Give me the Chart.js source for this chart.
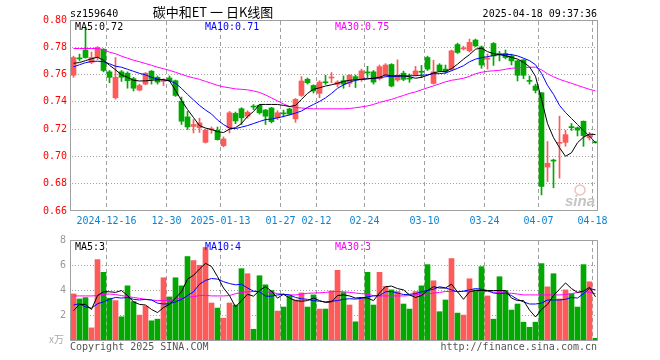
<!DOCTYPE html>
<html>
<head>
<meta charset="utf-8">
<script src="https://cdn.jsdelivr.net/npm/chart.js@4.4.1/dist/chart.umd.min.js"></script>
<style>
  html, body { margin: 0; padding: 0; background: #fff; }
  #wrap { position: relative; width: 660px; height: 360px; overflow: hidden; background: #fff; }
  canvas { position: absolute; left: 0; }
  #price { top: 0; }
  #vol { top: 230px; }
</style>
</head>
<body>
<div id="wrap">
  <canvas id="price" width="660" height="230"></canvas>
  <canvas id="vol" width="660" height="130"></canvas>
</div>
<script>
// daily candles, 2024-12-09 .. 2025-04-18 (88 sessions)
const opens = [
  0.7595, 0.772, 0.778, 0.769, 0.7725, 0.7786, 0.762, 0.743, 0.762, 0.761,
  0.757, 0.7486, 0.753, 0.7625, 0.758, 0.755, 0.7575, 0.7555, 0.7405, 0.729,
  0.722, 0.721, 0.7103, 0.7195, 0.7192, 0.7079, 0.721, 0.7315, 0.735, 0.7295,
  0.7368, 0.7375, 0.734, 0.7355, 0.7283, 0.7318, 0.7348, 0.7275, 0.7447, 0.7566,
  0.752, 0.7462, 0.7545, 0.7575, 0.7528, 0.7555, 0.7536, 0.7585, 0.7565, 0.7618,
  0.762, 0.757, 0.7595, 0.7674, 0.756, 0.761, 0.7573, 0.7595, 0.7623, 0.7725,
  0.7535, 0.767, 0.764, 0.7639, 0.782, 0.7788, 0.7774, 0.7853, 0.7803, 0.7713,
  0.7828, 0.7753, 0.7755, 0.7736, 0.770, 0.7708, 0.7556, 0.7516, 0.7467, 0.6922,
  0.6972, 0.7096, 0.7103, 0.7216, 0.721, 0.7258, 0.7136, 0.7106
];
const highs = [
  0.7735, 0.775, 0.7946, 0.7765, 0.7805, 0.779, 0.763, 0.7725, 0.763, 0.762,
  0.758, 0.753, 0.7615, 0.763, 0.759, 0.757, 0.759, 0.756, 0.7435, 0.733,
  0.727, 0.728, 0.720, 0.7216, 0.7216, 0.7143, 0.733, 0.7325, 0.7357, 0.7335,
  0.738, 0.738, 0.7345, 0.736, 0.7335, 0.734, 0.7355, 0.7425, 0.7585, 0.7575,
  0.7525, 0.7555, 0.7595, 0.7615, 0.7555, 0.759, 0.760, 0.7597, 0.764, 0.766,
  0.763, 0.767, 0.768, 0.768, 0.7708, 0.7625, 0.7605, 0.766, 0.7667, 0.7735,
  0.7705, 0.768, 0.767, 0.778, 0.783, 0.7808, 0.786, 0.786, 0.781, 0.7751,
  0.7835, 0.777, 0.778, 0.775, 0.7705, 0.771, 0.759, 0.753, 0.7467, 0.711,
  0.698, 0.7295, 0.7192, 0.7241, 0.7216, 0.726, 0.7175, 0.7108
];
const lows = [
  0.758, 0.770, 0.772, 0.768, 0.771, 0.762, 0.754, 0.742, 0.755, 0.750,
  0.748, 0.748, 0.7525, 0.753, 0.753, 0.752, 0.755, 0.744, 0.7234, 0.7197,
  0.7172, 0.7175, 0.7098, 0.717, 0.712, 0.707, 0.7172, 0.724, 0.7234, 0.728,
  0.7344, 0.731, 0.7234, 0.7245, 0.727, 0.729, 0.7305, 0.725, 0.744, 0.753,
  0.7465, 0.743, 0.7528, 0.754, 0.751, 0.750, 0.751, 0.7505, 0.755, 0.7578,
  0.753, 0.756, 0.7585, 0.751, 0.755, 0.7555, 0.7543, 0.759, 0.7578, 0.763,
  0.753, 0.762, 0.761, 0.763, 0.7755, 0.778, 0.7765, 0.7805, 0.7646, 0.764,
  0.7667, 0.770, 0.7715, 0.767, 0.7553, 0.757, 0.753, 0.7465, 0.6718, 0.6816,
  0.677, 0.6841, 0.7074, 0.719, 0.715, 0.7074, 0.712, 0.7098
];
const closes = [
  0.7725, 0.7715, 0.7725, 0.7725, 0.780, 0.763, 0.758, 0.758, 0.758, 0.7555,
  0.750, 0.752, 0.761, 0.7565, 0.7545, 0.7555, 0.7555, 0.7447, 0.7258, 0.7216,
  0.7234, 0.7246, 0.7192, 0.7203, 0.7123, 0.7128, 0.732, 0.726, 0.7283, 0.7324,
  0.7362, 0.732, 0.7295, 0.7255, 0.732, 0.7312, 0.731, 0.7418, 0.7553, 0.754,
  0.748, 0.7545, 0.754, 0.758, 0.7545, 0.753, 0.7595, 0.7565, 0.7627, 0.7612,
  0.7545, 0.7658, 0.767, 0.7516, 0.7595, 0.7565, 0.7567, 0.7627, 0.7617, 0.764,
  0.762, 0.7627, 0.7622, 0.7774, 0.7762, 0.7795, 0.7836, 0.781, 0.767, 0.772,
  0.7736, 0.7747, 0.7725, 0.770, 0.7595, 0.7595, 0.755, 0.7484, 0.678, 0.695,
  0.6966, 0.7102, 0.716, 0.7211, 0.7193, 0.7153, 0.716, 0.71
];
// volume, 万手
const volumes = [
  3.73, 3.33, 3.44, 1.04, 6.45, 5.44, 3.39, 3.2, 1.92, 4.37,
  3.12, 2.05, 2.77, 1.6, 1.73, 5.01, 3.49, 5.01, 4.37, 6.69,
  6.37, 6.0, 7.41, 3.01, 2.61, 1.81, 3.01, 2.85, 5.73, 5.33,
  0.93, 5.17, 4.45, 4.0, 2.37, 2.69, 3.57, 3.25, 3.81, 2.69,
  3.65, 2.53, 2.53, 3.97, 5.6, 3.84, 2.85, 1.52, 3.39, 5.44,
  2.85, 5.44, 4.32, 4.05, 3.92, 2.93, 2.53, 3.92, 4.37, 6.05,
  4.77, 2.32, 3.25, 6.53, 2.21, 2.05, 4.93, 4.05, 5.89, 3.57,
  1.73, 5.09, 4.0, 2.45, 2.93, 1.49, 1.09, 1.49, 6.13, 4.29,
  5.33, 3.33, 4.05, 3.73, 2.69, 6.05, 4.69, 0.21
];

// moving average lines as drawn on the chart
const priceMA5 = [
  0.7683, 0.7688, 0.7702, 0.7716, 0.7727, 0.7705, 0.7668, 0.7635, 0.7598, 0.758,
  0.7558, 0.7553, 0.7554, 0.7558, 0.7562, 0.7562, 0.7554, 0.7484, 0.741, 0.7344,
  0.7285, 0.7226, 0.7208, 0.7197, 0.7182, 0.7175, 0.72, 0.7211, 0.7241, 0.7293,
  0.7329, 0.7381, 0.7381, 0.7381, 0.7381, 0.7374, 0.7366, 0.7374, 0.7418, 0.7462,
  0.7492, 0.7503, 0.7516, 0.7525, 0.7536, 0.755, 0.7558, 0.7562, 0.7565, 0.7569,
  0.7573, 0.758, 0.7598, 0.7591, 0.759, 0.7591, 0.7584, 0.7573, 0.758, 0.7595,
  0.7613, 0.7622, 0.7622, 0.7643, 0.7676, 0.7713, 0.7746, 0.7786, 0.7794, 0.7768,
  0.7753, 0.7746, 0.7738, 0.7727, 0.7713, 0.769, 0.7657, 0.7587, 0.7418, 0.7241,
  0.7138, 0.7064, 0.7001, 0.7027, 0.7101, 0.7141, 0.7164, 0.716
];
const priceMA10 = [
  0.7657, 0.7672, 0.7687, 0.7696, 0.7698, 0.7694, 0.7679, 0.7661, 0.7654, 0.7639,
  0.7624, 0.7609, 0.7598, 0.758, 0.7567, 0.7562, 0.7554, 0.7536, 0.7499, 0.7455,
  0.7414, 0.7374, 0.734, 0.7311, 0.7267, 0.7234, 0.7208, 0.7204, 0.7215, 0.7226,
  0.7241, 0.7256, 0.727, 0.7274, 0.7283, 0.7293, 0.7304, 0.7318, 0.7333, 0.7359,
  0.7381, 0.7403, 0.7429, 0.7462, 0.7499, 0.7525, 0.7543, 0.7558, 0.7565, 0.7569,
  0.7573, 0.7576, 0.7584, 0.7587, 0.7587, 0.759, 0.7591, 0.7592, 0.7595, 0.7598,
  0.7606, 0.7607, 0.7611, 0.7628, 0.7646, 0.7665, 0.7694, 0.7713, 0.7724, 0.7731,
  0.774, 0.7746, 0.7749, 0.7746, 0.7737, 0.772, 0.7702, 0.7672, 0.7609, 0.7521,
  0.7455, 0.7374, 0.7322, 0.7278, 0.7234, 0.7189, 0.7149, 0.7101
];
const priceMA30 = [
  0.7791, 0.7791, 0.7791, 0.7791, 0.7791, 0.7783, 0.7764, 0.7753, 0.7735, 0.772,
  0.7705, 0.7694, 0.7681, 0.7668, 0.7654, 0.7643, 0.7631, 0.7617, 0.7602, 0.7587,
  0.7576, 0.7565, 0.755, 0.7536, 0.7521, 0.751, 0.7503, 0.7495, 0.7492, 0.7488,
  0.748, 0.7469, 0.7451, 0.7429, 0.7407, 0.7385, 0.7366, 0.7359, 0.7355, 0.7351,
  0.7349, 0.7349, 0.7349, 0.7349, 0.7349, 0.7349, 0.7351, 0.7357, 0.7363, 0.737,
  0.7381, 0.7396, 0.7407, 0.7418, 0.7433, 0.7447, 0.7462, 0.7473, 0.7488, 0.7503,
  0.7517, 0.7532, 0.7547, 0.7558, 0.7565, 0.7573, 0.7587, 0.7606, 0.7617, 0.7624,
  0.7628, 0.7631, 0.7639, 0.7646, 0.765, 0.7651, 0.7654, 0.7654, 0.7635, 0.7606,
  0.7584, 0.7565, 0.755, 0.7536, 0.7521, 0.7506, 0.7492, 0.748
];
const volMA5 = [
  2.4, 2.9, 2.9, 2.5, 3.6, 3.9, 3.9, 3.85, 4.0, 3.6,
  3.1, 2.9, 2.85, 2.5, 2.25, 2.65, 2.9, 3.4, 3.9, 4.9,
  5.2, 5.7, 6.15, 5.9, 5.1, 4.2, 3.6, 2.7, 3.2, 3.7,
  3.55, 4.0, 4.3, 3.95, 3.4, 3.7, 3.4, 3.2, 3.15, 3.2,
  3.4, 3.2, 3.05, 3.1, 3.6, 3.65, 3.57, 3.4, 3.45, 3.4,
  3.2, 3.8, 4.3, 4.35, 4.15, 4.05, 3.65, 3.45, 3.6, 4.0,
  4.3, 4.2, 4.2, 4.5, 3.9, 3.3, 3.9, 4.0, 4.0, 4.0,
  4.0, 4.0, 4.0, 3.4, 3.2, 3.2, 2.45, 1.9, 2.5, 2.9,
  3.6, 4.1, 4.6, 4.15, 3.85, 3.95, 4.25, 3.5
];
const volMA10 = [
  2.85, 2.95, 2.7, 2.6, 2.95, 3.1, 3.3, 3.45, 3.4, 3.45,
  3.3, 3.25, 3.3, 3.25, 3.0, 2.93, 2.95, 3.1, 3.3, 3.6,
  3.9, 4.5, 4.8, 4.95, 4.9, 4.7, 4.55, 4.45, 4.5, 4.2,
  3.95, 3.9, 3.55, 3.55, 3.65, 3.7, 3.65, 3.45, 3.35, 3.3,
  3.2, 3.15, 3.1, 3.15, 3.2, 3.3, 3.35, 3.32, 3.38, 3.5,
  3.57, 3.6, 3.9, 3.92, 3.8, 3.68, 3.7, 3.75, 3.9, 4.0,
  4.1, 4.3, 4.2, 4.05, 3.9, 3.95, 4.05, 4.15, 4.1, 4.0,
  3.8, 3.75, 3.8, 3.6, 3.3, 3.1, 2.93, 2.93, 3.0, 3.25,
  3.25, 3.25, 3.3, 3.45, 3.4, 3.75, 4.15, 4.05
];
const volMA30 = [
  3.57, 3.57, 3.57, 3.57, 3.6, 3.7, 3.72, 3.68, 3.6, 3.52,
  3.45, 3.38, 3.3, 3.25, 3.2, 3.2, 3.2, 3.3, 3.4, 3.45,
  3.52, 3.6, 3.62, 3.57, 3.57, 3.57, 3.6, 3.75, 3.84, 3.9,
  3.92, 3.92, 3.92, 3.85, 3.75, 3.7, 3.65, 3.65, 3.7, 3.78,
  3.8, 3.82, 3.85, 3.9, 3.92, 3.9, 3.85, 3.8, 3.75, 3.7,
  3.6, 3.57, 3.57, 3.57, 3.57, 3.57, 3.6, 3.65, 3.7, 3.73,
  3.8, 3.85, 3.92, 3.92, 3.92, 3.92, 3.92, 3.92, 3.92, 3.92,
  3.88, 3.84, 3.8, 3.78, 3.72, 3.65, 3.65, 3.65, 3.65, 3.65,
  3.65, 3.65, 3.68, 3.75, 3.85, 3.92, 3.85, 3.75
];

// date ticks: session index -> label
const tickPos = [6, 16, 25, 35, 41, 49, 59, 69, 78, 87];
const tickLabels = ['2024-12-16', '12-30', '2025-01-13', '01-27', '02-12', '02-24', '03-10', '03-24', '04-07', '04-18'];
const priceTicks = [0.66, 0.68, 0.70, 0.72, 0.74, 0.76, 0.78, 0.80];
const priceTickLabels = ['0.66', '0.68', '0.70', '0.72', '0.74', '0.76', '0.78', '0.80'];
const volTicks = [0, 2, 4, 6, 8];
const volTickLabels = ['', '2', '4', '6', '8'];

const RED = '#ff5a5a';
const GREEN = '#00a800';
const MAGENTA = '#ff00ff';
const BLUE = '#0000ff';
const FRAME = '#a0a0a0';
const GRID = '#a0a0a0';
const MONO = '"DejaVu Sans Mono", monospace';

const N = closes.length;
const xs = closes.map((c, i) => i);
const upDown = xs.map(i => closes[i] > opens[i] ? RED : GREEN);
// shift by 1/12 slot so 5px bodies and 1px wicks land on whole pixels
const X_MIN = -0.5 - 1 / 12;
const X_MAX = N - 0.5 - 1 / 12;

Chart.defaults.font.family = MONO;
Chart.defaults.font.size = 10;

function pts(arr) {
  return arr.map((v, i) => ({ x: i, y: v }));
}

function maLine(arr, color, order) {
  return {
    type: 'line', data: pts(arr), borderColor: color, borderWidth: 1,
    pointRadius: 0, tension: 0, fill: false, order: order
  };
}

function drawTexts(ctx, items) {
  ctx.save();
  ctx.textBaseline = 'alphabetic';
  items.forEach(t => {
    ctx.font = t.font || ('10px ' + MONO);
    ctx.fillStyle = t.color;
    ctx.textAlign = t.align || 'left';
    ctx.fillText(t.text, t.x, t.y);
  });
  ctx.restore();
}

// value -> pixel through the chart's scale, with the plain range as a fallback
function px(scale, v, lo, hi, p0, p1) {
  const p = scale ? scale.getPixelForValue(v) : NaN;
  if (Number.isFinite(p)) return p;
  return p0 + (v - lo) / (hi - lo) * (p1 - p0);
}

// dashed date lines and dotted value lines under the marks, frame on top
function overlay(yLines, yMin, yMax, items, extra) {
  return {
    id: 'overlay',
    beforeDatasetsDraw(chart) {
      const ctx = chart.ctx;
      const a = chart.chartArea;
      ctx.save();
      ctx.fillStyle = GRID;
      tickPos.forEach(p => {
        const x = Math.floor(px(chart.scales.x, p - 0.5, X_MIN, X_MAX, a.left, a.right));
        for (let y = Math.round(a.top) + 1; y < a.bottom - 2; y += 7) {
          ctx.fillRect(x, y, 1, 4);
        }
      });
      yLines.forEach(v => {
        const y = Math.floor(px(chart.scales.y, v, yMin, yMax, a.bottom, a.top));
        for (let x = Math.round(a.left) + 2; x < a.right - 1; x += 3) {
          ctx.fillRect(x, y, 1, 1);
        }
      });
      ctx.restore();
    },
    afterDatasetsDraw(chart) {
      const ctx = chart.ctx;
      const a = chart.chartArea;
      ctx.save();
      ctx.strokeStyle = FRAME;
      ctx.lineWidth = 1;
      ctx.strokeRect(a.left + 0.5, a.top + 0.5, a.right - a.left - 1, a.bottom - a.top - 1);
      ctx.restore();
    },
    afterDraw(chart) {
      drawTexts(chart.ctx, items);
      if (extra) extra(chart.ctx);
    }
  };
}

function xScale(showLabels, height) {
  return {
    type: 'linear',
    min: X_MIN,
    max: X_MAX,
    offset: false,
    bounds: 'data',
    afterBuildTicks: s => { s.ticks = tickPos.map(p => ({ value: p - 0.5 })); },
    afterFit: s => { s.height = height; },
    ticks: {
      display: showLabels,
      autoSkip: false,
      maxRotation: 0,
      minRotation: 0,
      padding: 4,
      color: '#0a84d6',
      callback: (v, i) => tickLabels[i]
    },
    grid: { display: false, drawTicks: false },
    border: { display: false }
  };
}

// ---- price panel ----
new Chart(document.getElementById('price'), {
  type: 'bar',
  data: {
    datasets: [
      maLine(priceMA5, '#000000', 0),
      maLine(priceMA10, BLUE, 1),
      maLine(priceMA30, MAGENTA, 1),
      {
        type: 'bar', order: 2,
        data: xs.map(i => ({ x: i, y: [opens[i], closes[i]] })),
        backgroundColor: upDown, barThickness: 5, minBarLength: 1, grouped: false
      },
      {
        type: 'bar', order: 3,
        data: xs.map(i => ({ x: i, y: [lows[i], highs[i]] })),
        backgroundColor: upDown, barThickness: 1, minBarLength: 1, grouped: false
      }
    ]
  },
  options: {
    responsive: false,
    animation: false,
    devicePixelRatio: 1,
    layout: { padding: { left: 0, right: 62, top: 20, bottom: 0 } },
    plugins: { legend: { display: false }, tooltip: { enabled: false } },
    scales: {
      x: xScale(true, 19),
      y: {
        type: 'linear',
        min: 0.66,
        max: 0.80,
        beginAtZero: false,
        afterBuildTicks: s => { s.ticks = priceTicks.map(v => ({ value: v })); },
        afterFit: s => { s.width = 70; },
        ticks: {
          color: '#ff0000',
          padding: 3,
          callback: (v, i) => priceTickLabels[i]
        },
        grid: { display: false, drawTicks: false },
        border: { display: false }
      }
    }
  },
  plugins: [overlay(priceTicks.slice(1, -1), 0.66, 0.80, [
    { text: 'sz159640', x: 70, y: 16.5, color: '#000' },
    { text: '碳中和ET 一 日K线图', x: 213, y: 17, color: '#000', align: 'center', font: '13px "Noto Sans CJK SC"' },
    { text: '2025-04-18 09:37:36', x: 597, y: 16.5, color: '#000', align: 'right' },
    { text: 'MA5:0.72', x: 75, y: 30, color: '#000' },
    { text: 'MA10:0.71', x: 205, y: 30, color: BLUE },
    { text: 'MA30:0.75', x: 335, y: 30, color: MAGENTA },
    { text: 'sina', x: 565, y: 206, color: '#c4c4c4', font: 'italic bold 15px "Liberation Sans"' }
  ], ctx => {
    // faint eye logo of the watermark
    ctx.save();
    ctx.strokeStyle = '#f0c0c0';
    ctx.lineWidth = 1.5;
    ctx.beginPath();
    ctx.arc(580, 190, 5, 0, Math.PI * 2);
    ctx.stroke();
    ctx.restore();
  })]
});

// ---- volume panel ----
new Chart(document.getElementById('vol'), {
  type: 'bar',
  data: {
    datasets: [
      maLine(volMA5, '#000000', 0),
      maLine(volMA10, BLUE, 1),
      maLine(volMA30, MAGENTA, 1),
      {
        type: 'bar', order: 2,
        data: xs.map(i => ({ x: i, y: volumes[i] })),
        backgroundColor: upDown, barThickness: 5, grouped: false
      }
    ]
  },
  options: {
    responsive: false,
    animation: false,
    devicePixelRatio: 1,
    layout: { padding: { left: 0, right: 62, top: 10, bottom: 19 } },
    plugins: { legend: { display: false }, tooltip: { enabled: false } },
    scales: {
      x: xScale(false, 0),
      y: {
        type: 'linear',
        min: 0,
        max: 8,
        afterBuildTicks: s => { s.ticks = volTicks.map(v => ({ value: v })); },
        afterFit: s => { s.width = 70; },
        ticks: {
          color: '#999999',
          padding: 4,
          callback: (v, i) => volTickLabels[i]
        },
        grid: { display: false, drawTicks: false },
        border: { display: false }
      }
    }
  },
  plugins: [overlay(volTicks.slice(1, -1), 0, 8, [
    { text: 'MA5:3', x: 75, y: 20, color: '#000' },
    { text: 'MA10:4', x: 205, y: 20, color: BLUE },
    { text: 'MA30:3', x: 335, y: 20, color: MAGENTA },
    { text: 'x万', x: 49, y: 113, color: '#aaaaaa', font: '10px "Noto Sans CJK SC"' },
    { text: 'Copyright 2025 SINA.COM', x: 70, y: 120, color: '#555555' },
    { text: 'http://finance.sina.com.cn', x: 597, y: 120, color: '#555555', align: 'right' }
  ])]
});
</script>
</body>
</html>
